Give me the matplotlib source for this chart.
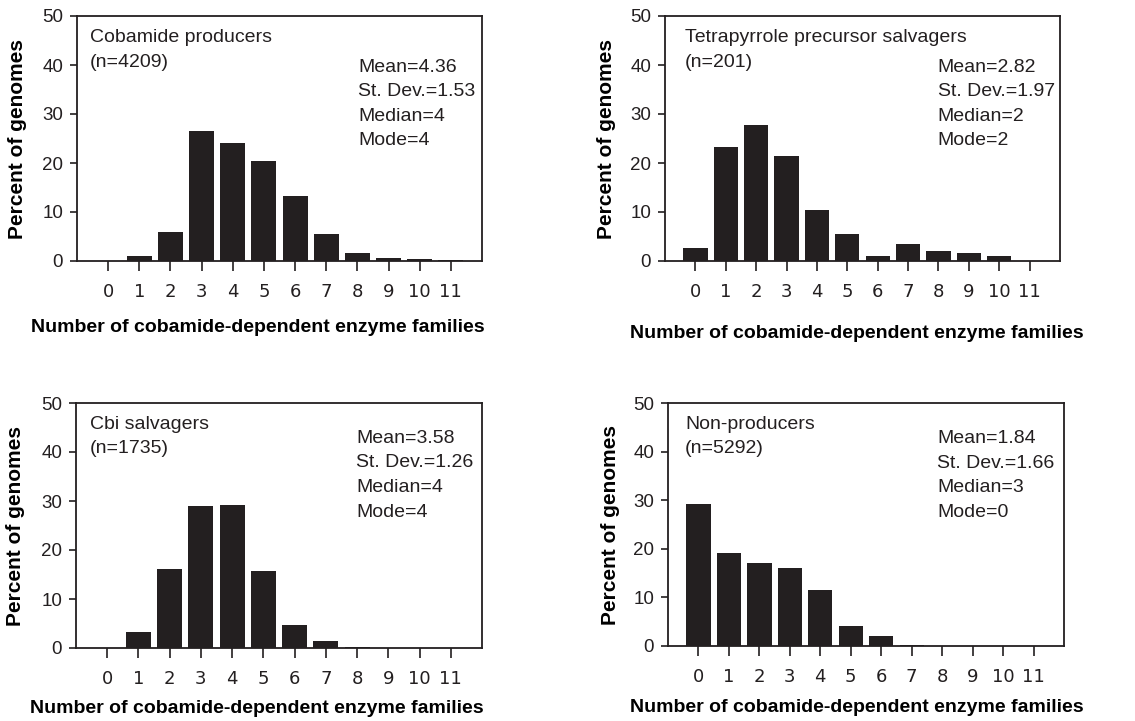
import numpy as np
import matplotlib
matplotlib.use("Agg")
import matplotlib.pyplot as plt

# percent of genomes per number of cobamide-dependent enzyme families (0..11)
families = np.arange(12)

producers = [0.1, 1.0, 6.0, 26.5, 24.1, 20.4, 13.3, 5.5, 1.6, 0.7, 0.5, 0.3]
tetrapyrrole = [2.65, 23.3, 27.8, 21.5, 10.4, 5.5, 1.0, 3.5, 2.0, 1.6, 1.0, 0.0]
cbi = [0.0, 3.2, 16.1, 28.9, 29.2, 15.7, 4.6, 1.4, 0.2, 0.1, 0.05, 0.05]
non_producers = [29.2, 19.2, 17.1, 16.1, 11.6, 4.2, 2.1, 0.3, 0.05, 0.05, 0.05, 0.05]

group_names = ["Cobamide producers", "Tetrapyrrole precursor salvagers",
               "Cbi salvagers", "Non-producers"]
group_n = [4209, 201, 1735, 5292]
means = [4.36, 2.82, 3.58, 1.84]
stdevs = [1.53, 1.97, 1.26, 1.66]
medians = [4, 2, 4, 3]
modes = [4, 2, 4, 0]

INK = "#231f20"
W, H = 1135, 721

plt.rcParams["font.family"] = ["Liberation Sans", "DejaVu Sans"]
plt.rcParams["text.color"] = INK

fig = plt.figure(figsize=(W / 100, H / 100), dpi=100)

# axes boxes in pixels: left, right, top, bottom
boxes = [(77, 482, 16, 261), (665, 1060, 16, 261),
         (76, 482, 403, 648), (668, 1064, 403, 646)]
xlabel_pos = [(0.446, -0.273), (0.486, -0.294), (0.446, -0.245), (0.477, -0.255)]
ylabel_x = [-0.148, -0.147, -0.148, -0.146]
title_pos = [(0.032, 0.945), (0.05, 0.945), (0.034, 0.948), (0.043, 0.948)]
stats_pos = [(0.694, 0.825), (0.69, 0.825), (0.69, 0.89), (0.68, 0.888)]

data = [producers, tetrapyrrole, cbi, non_producers]

for i, vals in enumerate(data):
    l, r, t, b = boxes[i]
    ax = fig.add_axes([l / W, (H - b) / H, (r - l) / W, (b - t) / H])
    ax.bar(families, vals, width=0.8, color=INK, edgecolor="none")
    ax.set_xlim(-1, 12)
    ax.set_ylim(0, 50)
    ax.set_xticks(families)
    ax.set_yticks(np.arange(0, 51, 10))
    ax.tick_params(axis="x", length=7, width=1.2, color=INK, pad=9,
                   labelsize=13, labelcolor=INK)
    ax.tick_params(axis="y", length=5, width=1.2, color=INK, pad=5,
                   labelsize=13.5, labelcolor=INK)
    for lab in ax.get_xticklabels():
        lab.set_family("DejaVu Sans")
    for s in ax.spines.values():
        s.set_linewidth(1.3)
        s.set_color(INK)

    ax.set_xlabel("Number of cobamide-dependent enzyme families",
                  fontsize=14, fontweight="bold", va="center")
    ax.xaxis.set_label_coords(*xlabel_pos[i])
    ax.set_ylabel("Percent of genomes", fontsize=15, fontweight="bold",
                  va="center")
    ax.yaxis.set_label_coords(ylabel_x[i], 0.498)

    ax.text(*title_pos[i], f"{group_names[i]}\n(n={group_n[i]})",
            transform=ax.transAxes, ha="left", va="top", fontsize=14,
            linespacing=1.58)
    stats = (f"Mean={means[i]:.2f}\nSt. Dev.={stdevs[i]:.2f}\n"
             f"Median={medians[i]}\nMode={modes[i]}")
    ax.text(*stats_pos[i], stats, transform=ax.transAxes, ha="left",
            va="top", fontsize=14, linespacing=1.58)

fig.savefig("out.png", dpi=100)
